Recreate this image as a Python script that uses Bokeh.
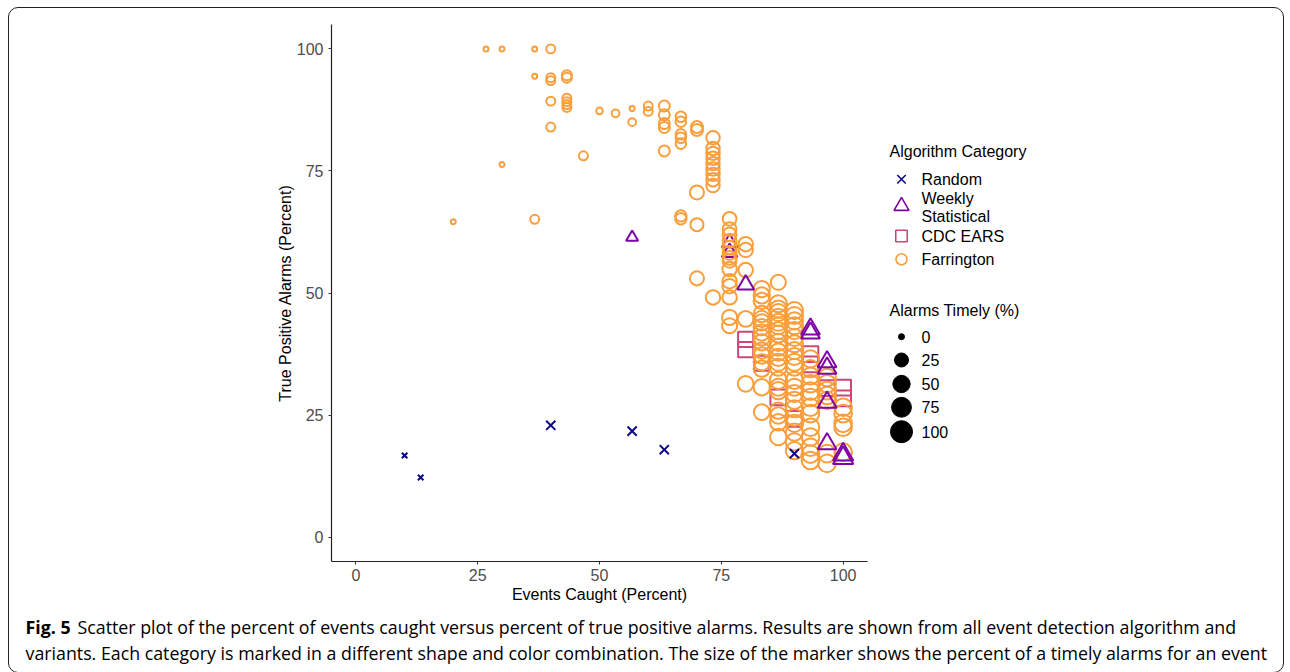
import numpy as np
from bokeh.plotting import figure
from bokeh.models import Range1d, Label, ColumnDataSource, FixedTicker
from bokeh.layouts import column, row
from bokeh.embed import file_html
from bokeh.resources import INLINE

# ---------------- data ----------------
categories = ["Random", "Weekly Statistical", "CDC EARS", "Farrington"]
cat_colors = ["#0D0887", "#7E03A8", "#CC4678", "#FA9E3B"]

random_x = [10.0, 13.3, 40.0, 56.7, 63.3, 90.0]
random_y = [16.7, 12.2, 22.9, 21.7, 17.9, 17.1]
random_t = [3, 3, 25, 25, 25, 25]

# Weekly Statistical: the first two sit underneath the Farrington circles
weekly_x = [76.7, 76.7, 56.7, 80.0, 93.3, 93.3, 96.7, 96.7, 96.7, 96.7, 100.0, 100.0]
weekly_y = [60.3, 58.3, 61.4, 51.7, 42.6, 41.8, 35.9, 34.6, 27.6, 19.1, 16.9, 16.2]
weekly_t = [25, 25, 10, 32, 45, 45, 45, 45, 45, 45, 56, 56]
weekly_below = 2

ears_x = [80.0, 80.0, 83.3, 86.7, 90.0, 93.3, 93.3, 96.7, 100.0, 100.0]
ears_y = [40.5, 38.4, 35.6, 28.6, 24.2, 37.5, 35.4, 30.5, 30.6, 28.4]
ears_t = [40, 40, 40, 45, 45, 45, 45, 45, 45, 45]

farr_x = [20.0, 26.7, 30.0, 30.0, 36.7, 36.7, 36.7,
          40.0, 40.0, 40.0, 40.0, 40.0,
          43.3, 43.3, 43.3, 43.3, 43.3, 43.3,
          46.7, 50.0, 53.3, 56.7, 56.7, 60.0, 60.0,
          63.3, 63.3, 63.3, 63.3, 63.3,
          66.7, 66.7, 66.7, 66.7, 66.7, 66.7, 66.7,
          70.0, 70.0, 70.0, 70.0, 70.0,
          73.3, 73.3, 73.3, 73.3, 73.3, 73.3, 73.3, 73.3, 73.3, 73.3,
          76.7, 76.7, 76.7, 76.7, 76.7, 76.7, 76.7, 76.7, 76.7, 76.7, 76.7, 76.7, 76.7, 76.7,
          80.0, 80.0, 80.0, 80.0, 80.0,
          83.3, 83.3, 83.3, 83.3, 83.3, 83.3, 83.3, 83.3, 83.3, 83.3, 83.3, 83.3, 83.3, 83.3, 83.3, 83.3,
          86.7, 86.7, 86.7, 86.7, 86.7, 86.7, 86.7, 86.7, 86.7, 86.7, 86.7,
          86.7, 86.7, 86.7, 86.7, 86.7, 86.7, 86.7, 86.7, 86.7, 86.7, 86.7,
          90.0, 90.0, 90.0, 90.0, 90.0, 90.0, 90.0, 90.0, 90.0, 90.0, 90.0,
          90.0, 90.0, 90.0, 90.0, 90.0, 90.0, 90.0, 90.0, 90.0, 90.0,
          93.3, 93.3, 93.3, 93.3, 93.3, 93.3, 93.3, 93.3, 93.3, 93.3, 93.3, 93.3, 93.3,
          96.7, 96.7, 96.7, 96.7, 96.7, 96.7, 96.7,
          100.0, 100.0, 100.0, 100.0, 100.0]
farr_y = [64.6, 100.0, 100.0, 76.3, 100.0, 94.4, 65.1,
          100.0, 94.1, 93.5, 89.3, 84.0,
          94.6, 94.1, 89.9, 89.2, 88.6, 88.0,
          78.1, 87.3, 86.8, 87.8, 85.0, 88.3, 87.2,
          88.3, 86.5, 84.7, 83.9, 79.1,
          86.1, 85.1, 82.5, 81.8, 80.6, 65.8, 65.2,
          84.0, 83.4, 70.6, 64.0, 53.0,
          81.8, 79.6, 78.6, 77.6, 76.5, 75.4, 74.3, 73.2, 72.0, 49.1,
          65.2, 63.1, 62.0, 60.7, 59.3, 58.2, 57.2, 56.6, 54.9, 52.4, 51.4, 49.1, 45.0, 43.3,
          60.0, 58.8, 54.7, 44.7, 31.4,
          50.8, 49.5, 48.4, 45.7, 44.7, 44.0, 43.0, 41.9, 40.9, 39.9, 38.2, 37.2, 35.8, 34.5, 30.7, 25.6,
          52.2, 47.8, 46.7, 46.0, 45.0, 44.0, 43.3, 42.3, 41.6, 39.9, 38.9,
          37.9, 36.8, 35.8, 34.8, 32.1, 30.7, 30.0, 25.9, 24.9, 23.5, 20.5,
          46.4, 45.4, 44.3, 43.3, 42.3, 40.9, 39.6, 38.2, 37.0, 35.8, 34.8,
          32.1, 30.7, 29.4, 28.0, 26.3, 24.5, 23.3, 21.5, 19.5, 17.7,
          36.5, 34.5, 33.0, 31.4, 29.9, 28.6, 26.6, 25.3, 22.5, 20.5, 18.4, 17.0, 15.7,
          32.7, 31.4, 30.0, 29.0, 28.0, 17.1, 15.1,
          26.6, 25.3, 23.3, 22.5, 17.4]
farr_t = [0, 0, 0, 0, 0, 0, 6,
          6, 6, 6, 6, 6,
          10, 10, 6, 6, 6, 6,
          6, 1, 3, 0, 3, 6, 6,
          14, 14, 14, 14, 14,
          12, 12, 12, 12, 12, 16, 16,
          19, 19, 32, 25, 32,
          28, 28, 28, 28, 28, 28, 28, 28, 28, 35,
          30, 30, 30, 30, 30, 30, 30, 30, 35, 35, 35, 35, 40, 40,
          35, 35, 35, 45, 45,
          50, 50, 50, 50, 50, 50, 50, 50, 50, 50, 50, 50, 50, 50, 50, 45,
          40, 58, 58, 58, 58, 58, 58, 58, 58, 58, 58,
          58, 58, 58, 58, 58, 58, 58, 52, 52, 52, 52,
          58, 58, 58, 58, 58, 58, 58, 58, 58, 58, 58,
          58, 58, 58, 58, 58, 58, 58, 58, 58, 58,
          58, 58, 58, 62, 62, 62, 62, 62, 62, 62, 62, 62, 62,
          62, 62, 62, 62, 62, 62, 62,
          62, 62, 62, 62, 62]

size_breaks = [0, 25, 50, 75, 100]
x_ticks = [0, 25, 50, 75, 100]
y_ticks = [0, 25, 50, 75, 100]

caption_bold = "Fig. 5"
caption_line1 = ("Scatter plot of the percent of events caught versus percent of true positive "
                 "alarms. Results are shown from all event detection algorithm and")
caption_line2 = ("variants. Each category is marked in a different shape and color combination. "
                 "The size of the marker shows the percent of a timely alarms for an event")


def marker_size(t):
    return 5 + 16 * np.sqrt(np.asarray(t, dtype=float) / 100.0)


FONT = "Liberation Sans"
LINE_W = 2.0
TOP, BOTTOM = 16, 49
FIG_H = 602
FRAME_H = FIG_H - TOP - BOTTOM

# ---------------- main scatter ----------------
p = figure(width=862, height=FIG_H, x_range=Range1d(-5, 105), y_range=Range1d(-5, 105),
           toolbar_location=None, output_backend="svg",
           min_border_left=322, min_border_right=4, min_border_top=TOP, min_border_bottom=BOTTOM)
p.grid.visible = False
p.outline_line_color = None
p.background_fill_color = None
p.border_fill_color = None

for ax in (p.xaxis[0], p.yaxis[0]):
    ax.axis_line_color = "#222222"
    ax.axis_line_width = 1.2
    ax.major_tick_line_color = "#333333"
    ax.major_tick_line_width = 1.1
    ax.major_tick_out = 3
    ax.major_tick_in = 0
    ax.minor_tick_line_color = None
    ax.major_label_text_color = "#4D4D4D"
    ax.major_label_text_font = FONT
    ax.major_label_text_font_size = "16px"
    ax.axis_label_text_font = FONT
    ax.axis_label_text_font_size = "16px"
    ax.axis_label_text_font_style = "normal"
    ax.axis_label_text_color = "black"
p.xaxis.ticker = FixedTicker(ticks=x_ticks)
p.yaxis.ticker = FixedTicker(ticks=y_ticks)
p.xaxis.axis_label = "Events Caught (Percent)"
p.yaxis.axis_label = "True Positive Alarms (Percent)"
p.xaxis.major_label_standoff = 4
p.yaxis.major_label_standoff = 5
p.xaxis.axis_label_standoff = 2
p.yaxis.axis_label_standoff = 0

ws = marker_size(weekly_t) * 1.2
src_ears = ColumnDataSource(dict(x=ears_x, y=ears_y, s=marker_size(ears_t)))
src_farr = ColumnDataSource(dict(x=farr_x, y=farr_y, s=marker_size(farr_t)))
src_week_lo = ColumnDataSource(dict(x=weekly_x[:weekly_below], y=weekly_y[:weekly_below], s=ws[:weekly_below]))
src_week_hi = ColumnDataSource(dict(x=weekly_x[weekly_below:], y=weekly_y[weekly_below:], s=ws[weekly_below:]))
src_rand = ColumnDataSource(dict(x=random_x, y=random_y, s=marker_size(random_t)))

p.scatter("x", "y", size="s", source=src_ears, marker="square", fill_color=None,
          line_color=cat_colors[2], line_width=LINE_W)
p.scatter("x", "y", size="s", source=src_week_lo, marker="triangle", fill_color=None,
          line_color=cat_colors[1], line_width=LINE_W)
p.scatter("x", "y", size="s", source=src_farr, marker="circle", fill_color=None,
          line_color=cat_colors[3], line_width=LINE_W)
p.scatter("x", "y", size="s", source=src_week_hi, marker="triangle", fill_color=None,
          line_color=cat_colors[1], line_width=LINE_W)
p.scatter("x", "y", size="s", source=src_rand, marker="x",
          line_color=cat_colors[0], line_width=LINE_W)

# ---------------- legend panel (coords: px from frame top) ----------------
LW = 412
lg = figure(width=LW, height=FIG_H, x_range=Range1d(0, LW), y_range=Range1d(FRAME_H, 0),
            toolbar_location=None, output_backend="svg",
            x_axis_location=None, y_axis_location=None,
            min_border_left=0, min_border_right=0, min_border_top=TOP, min_border_bottom=BOTTOM)
lg.grid.visible = False
lg.outline_line_color = None
lg.background_fill_color = None
lg.border_fill_color = None

key_x = 30
label_x = 50
def add_text(fig, x, y, txt, size="16px", style="normal", color="black", font=FONT, baseline="middle"):
    fig.add_layout(Label(x=x, y=y, text=txt, text_font=font, text_font_size=size,
                         text_font_style=style, text_color=color, text_baseline=baseline))

add_text(lg, 18, 127.2, "Algorithm Category")
cat_key_y = [154.8, 181.5, 211.5, 234.8]
cat_markers = ["x", "triangle", "square", "circle"]
cat_key_sizes = [12, 15, 11.5, 11]
for mk, cy, col, ks in zip(cat_markers, cat_key_y, cat_colors, cat_key_sizes):
    lg.scatter([key_x], [cy], marker=mk, size=ks, fill_color=None, line_color=col, line_width=1.6)
add_text(lg, label_x, 154.8, "Random")
add_text(lg, label_x, 173.8, "Weekly")
add_text(lg, label_x, 192.2, "Statistical")
add_text(lg, label_x, 211.5, "CDC EARS")
add_text(lg, label_x, 234.8, "Farrington")

add_text(lg, 18, 285.5, "Alarms Timely (%)")
size_key_y = [312.2, 335.5, 359.5, 382.8, 407.2]
lg.scatter([key_x] * len(size_breaks), size_key_y, marker="circle",
           size=marker_size(size_breaks) + 1, fill_color="black", line_color="black")
for b, yy in zip(size_breaks, size_key_y):
    add_text(lg, label_x, yy, str(b))

# ---------------- caption ----------------
CW, CH = 1272, 62
cap = figure(width=CW, height=CH, x_range=Range1d(0, CW), y_range=Range1d(CH, 0),
             toolbar_location=None, output_backend="svg",
             x_axis_location=None, y_axis_location=None, min_border=0)
cap.grid.visible = False
cap.outline_line_color = None
cap.background_fill_color = None
cap.border_fill_color = None
CAP_FONT = "Open Sans"
CAP_SIZE = "17.8px"
add_text(cap, 16, 16.5, caption_bold, size=CAP_SIZE, style="bold", font=CAP_FONT, baseline="alphabetic")
add_text(cap, 68, 16.5, caption_line1, size=CAP_SIZE, font=CAP_FONT, baseline="alphabetic")
add_text(cap, 16, 42.5, caption_line2, size=CAP_SIZE, font=CAP_FONT, baseline="alphabetic")

layout = column(row(p, lg), cap,
                styles={"border": "1.5px solid #222", "border-radius": "10px",
                        "margin-left": "8px", "margin-top": "7px"})

open("out.html", "w").write(file_html(layout, INLINE))
